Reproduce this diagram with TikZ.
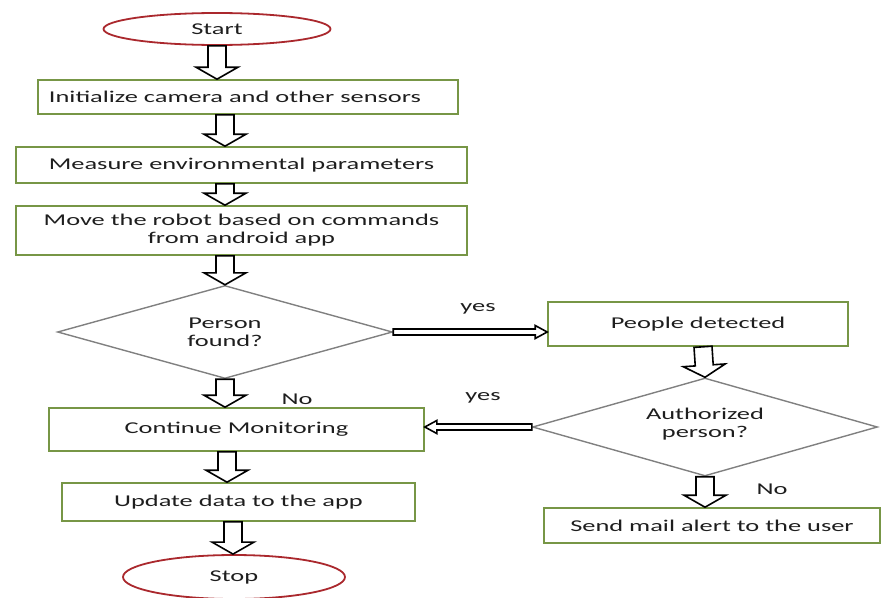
\documentclass[tikz,border=0pt]{standalone}
\usepackage{fontspec}
\setmainfont{Carlito}[FakeStretch=1.6]
\usetikzlibrary{shapes.geometric,calc}
\definecolor{boxgreen}{RGB}{119,150,70}
\definecolor{ovalred}{RGB}{170,40,45}
\definecolor{dgray}{RGB}{128,128,128}
\definecolor{txt}{RGB}{30,30,30}
\newcommand{\fatarrow}[5]{%
  \coordinate (fa1) at #1;
  \coordinate (fa2) at #2;
  \coordinate (fah) at ($(fa2)!#5!(fa1)$);
  \draw[arr] ($(fa1)!#3!90:(fa2)$) -- ($(fah)!#3!90:(fa2)$) -- ($(fah)!#4!90:(fa2)$)
    -- (fa2) -- ($(fah)!#4!-90:(fa2)$) -- ($(fah)!#3!-90:(fa2)$) -- ($(fa1)!#3!-90:(fa2)$) -- cycle;}
\newcommand{\varrow}[2]{\fatarrow{#1}{#2}{9pt}{21pt}{12pt}}
\newcommand{\harrow}[2]{\fatarrow{#1}{#2}{3pt}{6.5pt}{12pt}}
\begin{document}
\begin{tikzpicture}[x=1pt,y=-1pt,
  font=\fontsize{16.5}{18}\selectfont, text=txt,
  box/.style={draw=boxgreen, line width=1.6pt, rectangle, inner sep=0pt, align=center},
  oval/.style={draw=ovalred, line width=1.8pt, ellipse, inner sep=0pt},
  dia/.style={draw=dgray, line width=1.4pt, diamond, inner sep=0pt},
  arr/.style={draw=black, fill=white, line width=1.6pt, line join=miter},
  lbl/.style={inner sep=0pt}]
\useasboundingbox (0,0) rectangle (883,597);

% nodes
\node[oval, minimum width=227pt, minimum height=32pt] (start) at (217,29) {Start};
\node[box, minimum width=420pt, minimum height=34pt] (box1) at (248,97) {Initialize camera and other sensors\hspace*{26pt}};
\node[box, minimum width=451pt, minimum height=36pt] (box2) at (241.5,165) {Measure environmental parameters};
\node[box, minimum width=451pt, minimum height=49pt] (box3) at (241.5,230.5) {Move the robot based on commands\\from android app};
\node[dia, minimum width=335pt, minimum height=93pt,
      label={[align=center]center:{Person\\found?}}] (d1) at (225,332) {};
\node[box, minimum width=300pt, minimum height=44pt] (people) at (698,324) {People detected};
\node[dia, minimum width=345pt, minimum height=98pt,
      label={[align=center,yshift=3pt]center:{Authorized\\person?}}] (d2) at (705,427) {};
\node[box, minimum width=375pt, minimum height=43pt] (cont) at (236.5,429.5) {Continue Monitoring};
\node[box, minimum width=353pt, minimum height=38pt] (upd) at (238.5,502) {Update data to the app};
\node[oval, minimum width=222pt, minimum height=44pt] (stop) at (234,577) {Stop};
\node[box, minimum width=336pt, minimum height=35pt] (send) at (712,525.5) {Send mail alert to the user};

% labels
\node[lbl] (yes1) at (478,309) {yes};
\node[lbl] (yes2) at (483,398) {yes};
\node[lbl] (no1) at (297,399) {No};
\node[lbl] (no2) at (772,489) {No};

% arrow columns
\coordinate (c1) at (217,0);
\coordinate (c2) at (225,0);
\coordinate (c3) at (227,0);
\coordinate (c4) at (233,0);
\coordinate (c5) at (703,0);
\coordinate (c6) at (707,0);

% connectors
\varrow{(c1 |- start.south)}{(c1 |- box1.north)}
\varrow{(c2 |- box1.south)}{(c2 |- box2.north)}
\varrow{(c2 |- box2.south)}{(c2 |- box3.north)}
\varrow{(c2 |- box3.south)}{(d1.north)}
\varrow{(d1.south)}{(d1.south |- cont.north)}
\varrow{(c3 |- cont.south)}{(c3 |- upd.north)}
\varrow{(c4 |- upd.south)}{(c4 |- stop.north)}
\varrow{(c5 |- people.south)}{(d2.north)}
\varrow{(d2.south)}{(d2.south |- send.north)}
\harrow{(d1.east)}{(d1.east -| people.west)}
\harrow{(d2.west)}{(d2.west -| cont.east)}
\end{tikzpicture}
\end{document}
